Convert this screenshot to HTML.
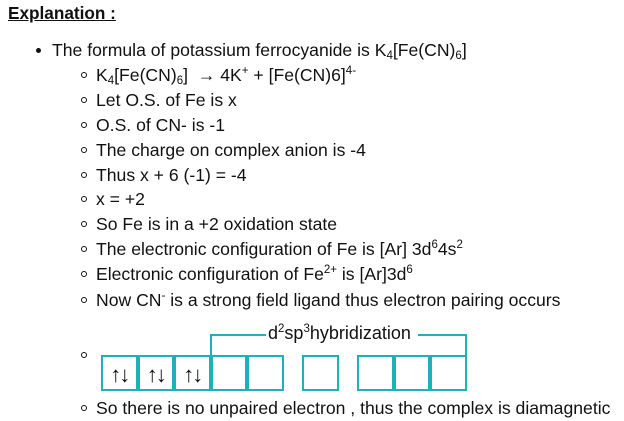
<!DOCTYPE html>
<html><head><style>
body{margin:0;width:624px;height:421px;background:#fff;position:relative;overflow:hidden;font-family:"Liberation Sans",Arial,sans-serif;color:#111;}
.l{position:absolute;font-size:17.6px;line-height:20px;white-space:nowrap;}
.b1::before{content:"";position:absolute;left:-16px;top:8px;width:5px;height:5px;border-radius:50%;background:#111;}
.b2::before{content:"";position:absolute;left:-15px;top:7px;width:4px;height:4px;border-radius:50%;border:1.3px solid #111;}
sub{font-size:11.5px;vertical-align:-3px;line-height:0}
sup{font-size:11.5px;vertical-align:7px;line-height:0}
.cell{position:absolute;top:355px;width:32.5px;height:32px;border:2px solid #1fb0b8;font-size:22px;text-align:center;line-height:35px;letter-spacing:-2px;}
.ln{position:absolute;background:#1fb0b8;}
</style></head><body>
<div class="l" style="left:8px;top:3px;font-weight:bold;text-decoration:underline;font-size:17.2px">Explanation :</div>
<div class="l b1" style="left:52px;top:40px">The formula of potassium ferrocyanide is K<sub>4</sub>[Fe(CN)<sub>6</sub>]</div>
<div class="l b2" style="left:96px;top:65px">K<sub>4</sub>[Fe(CN)<sub>6</sub>] &nbsp;→ 4K<sup>+</sup> + [Fe(CN)6]<sup>4-</sup></div>
<div class="l b2" style="left:96px;top:90px">Let O.S. of Fe is x</div>
<div class="l b2" style="left:96px;top:115px">O.S. of CN- is -1</div>
<div class="l b2" style="left:96px;top:140px">The charge on complex anion is -4</div>
<div class="l b2" style="left:96px;top:165px">Thus x + 6 (-1) = -4</div>
<div class="l b2" style="left:96px;top:189px">x = +2</div>
<div class="l b2" style="left:96px;top:214px">So Fe is in a +2 oxidation state</div>
<div class="l b2" style="left:96px;top:239px">The electronic configuration of Fe is [Ar] 3d<sup>6</sup>4s<sup>2</sup></div>
<div class="l b2" style="left:96px;top:264px">Electronic configuration of Fe<sup>2+</sup> is [Ar]3d<sup>6</sup></div>
<div class="l b2" style="left:96px;top:290px">Now CN<sup>-</sup> is a strong field ligand thus electron pairing occurs</div>
<div class="l b2" style="left:96px;top:345px"></div>
<div class="l b2" style="left:96px;top:398px">So there is no unpaired electron , thus the complex is diamagnetic</div>

<div class="cell" style="left:101px">↑↓</div>
<div class="cell" style="left:137.5px">↑↓</div>
<div class="cell" style="left:174px">↑↓</div>
<div class="cell" style="left:210.5px"></div>
<div class="cell" style="left:247px"></div>
<div class="cell" style="left:302px"></div>
<div class="cell" style="left:357px"></div>
<div class="cell" style="left:393.5px"></div>
<div class="cell" style="left:430px"></div>

<div class="ln" style="left:210px;top:334px;width:2px;height:22px"></div>
<div class="ln" style="left:465px;top:334px;width:2px;height:22px"></div>
<div class="ln" style="left:210px;top:334px;width:56px;height:2px"></div>
<div class="ln" style="left:418px;top:334px;width:49px;height:2px"></div>
<div class="l" style="left:268px;top:323px;font-size:18px">d<sup>2</sup>sp<sup>3</sup>hybridization</div>
</body></html>
